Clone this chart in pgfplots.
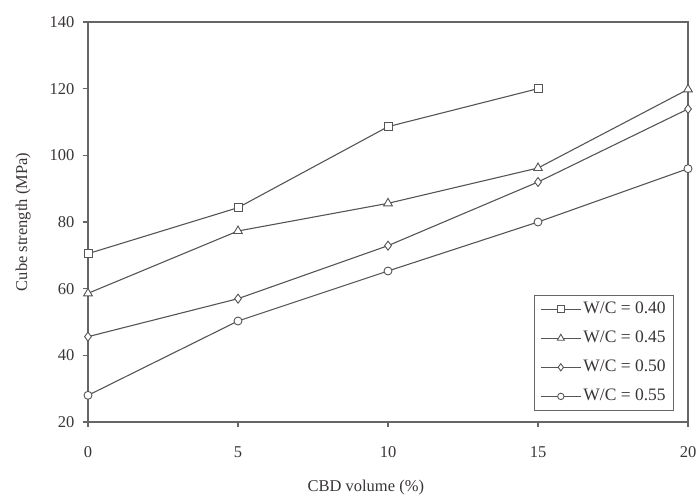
\documentclass[border=0pt]{standalone}
\usepackage{fontspec}
\setmainfont{Liberation Serif}
\usepackage{pgfplots}
\pgfplotsset{compat=1.18}
\definecolor{txt}{HTML}{3A3535}
\definecolor{ln}{HTML}{555555}
\definecolor{ax}{HTML}{666666}

\begin{document}
\fontsize{16.5bp}{19bp}\selectfont
\begin{tikzpicture}
\begin{axis}[
    scale only axis,
    width=600bp, height=400bp,
    xmin=0, xmax=20, ymin=20, ymax=140,
    xtick={0,5,...,20}, ytick={20,40,...,140},
    tick align=outside,
    xtick pos=bottom, ytick pos=left,
    major tick length=5bp,
    axis line style={ax, line width=1.3bp},
    every tick/.style={ax, line width=1.3bp},
    tick label style={txt},
    /pgf/number format/assume math mode=true,
    yticklabel style={xshift=-3bp},
    xticklabel style={yshift=-14bp},
    xlabel={CBD volume (\%)},
    ylabel={Cube strength (MPa)},
    label style={txt},
    xlabel style={at={(axis description cs:0.463,-0.165)}, anchor=center},
    ylabel style={at={(axis description cs:-0.108,0.5)}, anchor=center},
    every axis plot/.append style={ln, line width=1.1bp, mark options={fill=white, solid, line width=0.9bp}},
    legend style={at={(axis description cs:0.977,0.0275)}, anchor=south east,
        draw=ax, line width=1.1bp, font=\fontsize{17.5bp}{20bp}\selectfont, text=txt,
        inner xsep=6bp, inner ysep=5bp, row sep=11bp},
    legend cell align=left,
    legend image code/.code={
        \draw[mark repeat=2, mark phase=2, every mark/.append style={scale=0.8}]
            plot coordinates {(0bp,0bp) (20bp,0bp) (40bp,0bp)};
    },
]
\addplot[mark=square*, mark size=4bp] coordinates {(0,70.5) (5,84.3) (10,108.6) (15,120)};
\addlegendentry{W/C = 0.40}
\addplot[mark=triangle*, mark size=5bp] coordinates {(0,58.6) (5,77.3) (10,85.6) (15,96.2) (20,119.8)};
\addlegendentry{W/C = 0.45}
\addplot[mark=diamond*, mark size=4.5bp] coordinates {(0,45.6) (5,57) (10,72.9) (15,92) (20,113.9)};
\addlegendentry{W/C = 0.50}
\addplot[mark=*, mark size=4bp] coordinates {(0,28) (5,50.3) (10,65.3) (15,80) (20,96)};
\addlegendentry{W/C = 0.55}
\coordinate (ll) at (rel axis cs:0,0);
\coordinate (ur) at (rel axis cs:1,1);
\end{axis}
\pgfresetboundingbox
\path ([shift={(-88bp,-76bp)}]ll) rectangle ([shift={(10bp,22bp)}]ur);
\end{tikzpicture}
\end{document}
